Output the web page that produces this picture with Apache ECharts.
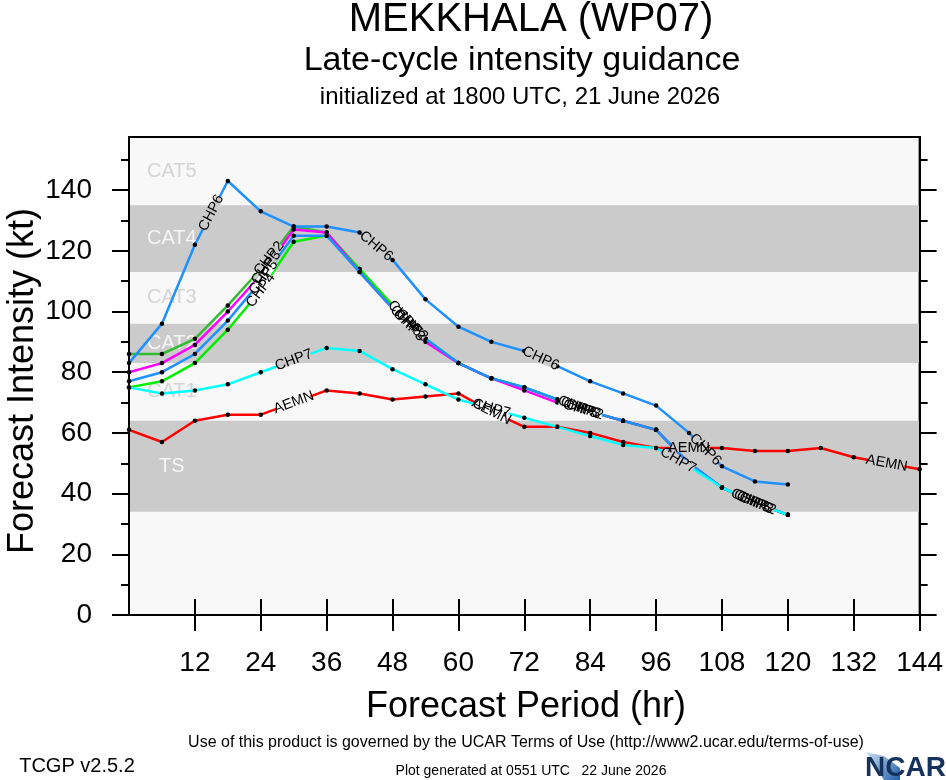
<!DOCTYPE html>
<html>
<head>
<meta charset="utf-8">
<script src="https://cdn.jsdelivr.net/npm/echarts@6/dist/echarts.min.js"></script>
<style>
html,body{margin:0;padding:0;background:#fff;}
#main{width:946px;height:780px;}
</style>
</head>
<body>
<div id="main"></div>
<script>
// forecast hours
var hours = [0,6,12,18,24,30,36,42,48,54,60,66,72,78,84,90,96,102,108,114,120,126,132,138,144];
// intensity (kt) per model
var aemn = [61,57,64,66,66,70,74,73,71,72,73,67,62,62,60,57,55,55,55,54,54,55,52,50,48];
var chp6 = [83,96,122,143,133,128,128,126,117,104,95,90,87,82,77,73,69,60,49,44,43];
var chp7 = [75,73,74,76,80,84,88,87,81,76,71,68,65,62,59,56,55,49,42,37,33];
var chp2 = [86,86,91,102,114,128,126,114,102,91,83,78,75,71,67,64,61,50,42,37,33];
var chp3 = [80,83,89,100,112,127,126,113,101,90,83,78,74,70,67,64,61,50,42,37,33];
var chp4 = [75,77,83,94,107,123,125,114,102,91,83,78,75,71,67,64,61,50,42,37,33];
var chp5 = [77,80,86,97,110,125,125,113,101,91,83,78,75,71,67,64,61,50,42,37,33];

// where the model names sit along each line (hours)
var aemnLabelAt = [30,66,102,138];
var chp6LabelAt = [15,45,75,105];
var chp7LabelAt = [30,66,100];
var chp2LabelAt = [25.5,51.5,83,114.5];
var chp3LabelAt = [25,51,82.5,114];
var chp4LabelAt = [24,50,81.5,113];
var chp5LabelAt = [24.5,50.5,82,113.5];

// intensity categories
var catNames = ['TS','CAT1','CAT2','CAT3','CAT4','CAT5'];
var catLow   = [34,64,83,96,113,135];
var catHigh  = [64,83,96,113,135,157.5];
var catShade = [true,false,true,false,true,false];

// axis ticks
var periodTicks = [12,24,36,48,60,72,84,96,108,120,132,144];
var ktMajor = [0,20,40,60,80,100,120,140];
var ktMinor = [10,30,50,70,90,110,130,150];

var FONT = 'Liberation Sans, Arial, Helvetica, sans-serif';
var GRAY = '#cbcbcb';
var LIGHT = '#f8f8f8';

var models = [
  {id:'AEMN', data:aemn, color:'#ff0000', at:aemnLabelAt},
  {id:'CHP2', data:chp2, color:'#33bb33', at:chp2LabelAt},
  {id:'CHP4', data:chp4, color:'#00ee00', at:chp4LabelAt},
  {id:'CHP3', data:chp3, color:'#ff00ff', at:chp3LabelAt},
  {id:'CHP5', data:chp5, color:'#1e90ff', at:chp5LabelAt},
  {id:'CHP6', data:chp6, color:'#1e90ff', at:chp6LabelAt},
  {id:'CHP7', data:chp7, color:'#00ffff', at:chp7LabelAt}
];

function pairs(arr){
  var out = [];
  for(var i = 0; i < arr.length; i++){
    out.push([hours[i], arr[i]]);
  }
  return out;
}

function valueAt(arr, t){
  var i = Math.min(Math.floor(t/6), arr.length-2);
  var f = (t - hours[i]) / 6;
  return arr[i] + (arr[i+1] - arr[i]) * f;
}

function bandColor(v){
  for(var k = 0; k < catNames.length; k++){
    if(catShade[k] && v >= catLow[k] && v < catHigh[k]) return GRAY;
  }
  return LIGHT;
}

var chart = echarts.init(document.getElementById('main'));

var bandAreas = [];
var bandLabels = [];
for(var k = 0; k < catNames.length; k++){
  if(catShade[k]){
    bandAreas.push([{yAxis:catLow[k], itemStyle:{color:GRAY}}, {yAxis:catHigh[k]}]);
  }
  bandLabels.push({
    value:[7.8, (catLow[k]+catHigh[k])/2],
    label:{color: catShade[k] ? '#ffffff' : '#cccccc'}
  });
}

var series = [{
  id:'bands',
  type:'scatter',
  z:1.5,
  symbolSize:0,
  silent:true,
  data:bandLabels,
  label:{
    show:true, position:'inside', fontSize:20, fontFamily:FONT,
    formatter:function(p){ return catNames[p.dataIndex]; }
  },
  markArea:{silent:true, data:bandAreas}
}];

models.forEach(function(m, idx){
  series.push({
    id:m.id,
    name:m.id,
    type:'line',
    z:2 + idx*0.1,
    data:pairs(m.data),
    showAllSymbol:true,
    symbol:'circle',
    symbolSize:4.5,
    itemStyle:{color:'#000'},
    lineStyle:{color:m.color, width:2.5},
    silent:true
  });
});

function yAxisBase(pos, ticks, len, showLabel){
  return {
    type:'value', min:0, max:157.5, position:pos, z:10,
    axisLine:{show:true, lineStyle:{color:'#000', width:2}},
    axisTick:{show:true, customValues:ticks, length:len, lineStyle:{color:'#000', width:2}},
    axisLabel:{show:showLabel, customValues:ticks, fontSize:28, color:'#000', margin:37, fontFamily:FONT},
    splitLine:{show:false}
  };
}

function xAxisBase(pos, showLabel){
  return {
    type:'value', min:0, max:144, position:pos, z:10,
    axisLine:{show:true, lineStyle:{color:'#000', width:2}},
    axisTick:{show:true, customValues:periodTicks, length:16, lineStyle:{color:'#000', width:2}},
    axisLabel:{show:showLabel, customValues:periodTicks, fontSize:28, color:'#000', margin:34, fontFamily:FONT},
    splitLine:{show:false}
  };
}

function txt(x, y, s, size, extra){
  var o = {
    type:'text', x:x, y:y, silent:true,
    style:{text:s, fontSize:size, fontFamily:FONT, fill:'#000',
      textAlign:'center', textVerticalAlign:'middle', align:'center', verticalAlign:'middle'}
  };
  if(extra){ for(var key in extra){ o[key] = extra[key]; } }
  return o;
}

var option = {
  animation:false,
  backgroundColor:'#ffffff',
  grid:{left:129, right:23, top:137, bottom:165, show:true, backgroundColor:LIGHT, borderColor:'#000', borderWidth:2},
  xAxis:[xAxisBase('bottom', true), xAxisBase('top', false)],
  yAxis:[
    yAxisBase('left', ktMajor, 17, true),
    yAxisBase('left', ktMinor, 8, false),
    yAxisBase('right', ktMajor, 17, false),
    yAxisBase('right', ktMinor, 8, false)
  ],
  series:series,
  graphic:[
    txt(531, 20, 'MEKKHALA (WP07)', 40),
    txt(522, 61, 'Late-cycle intensity guidance', 34),
    txt(520, 97, 'initialized at 1800 UTC, 21 June 2026', 24),
    txt(23, 381, 'Forecast Intensity (kt)', 36, {rotation:Math.PI/2}),
    txt(526, 707, 'Forecast Period (hr)', 36),
    txt(526, 743, 'Use of this product is governed by the UCAR Terms of Use (http://www2.ucar.edu/terms-of-use)', 16),
    txt(77, 766, 'TCGP v2.5.2', 20),
    txt(531, 771, 'Plot generated at 0551 UTC   22 June 2026', 14),
    {type:'polygon', silent:true, shape:{points:[[866,752],[884,756],[900,768],[900,780],[884,780]]},
      style:{fill:new echarts.graphic.LinearGradient(0,0,1,1,[{offset:0,color:'#cfe2f5'},{offset:1,color:'#1f5fa8'}])}},
    {type:'text', x:946, y:768, silent:true,
      style:{text:'NCAR', fontSize:28, fontWeight:'bold', fontFamily:FONT, fill:'#14325c',
        textAlign:'right', textVerticalAlign:'middle', align:'right', verticalAlign:'middle'}}
  ]
};

chart.setOption(option);

// model names written along their lines, breaking the line under the text
var labelUpdates = [];
models.forEach(function(m, idx){
  var last = hours[m.data.length-1];
  var marks = m.at.map(function(t){
    var v = valueAt(m.data, t);
    var ta = Math.max(0, t-3), tb = Math.min(last, t+3);
    var p1 = chart.convertToPixel({seriesIndex:idx+1}, [ta, valueAt(m.data, ta)]);
    var p2 = chart.convertToPixel({seriesIndex:idx+1}, [tb, valueAt(m.data, tb)]);
    var ang = Math.atan2(-(p2[1]-p1[1]), p2[0]-p1[0]) * 180 / Math.PI;
    return {
      coord:[t, v],
      symbol:'rect',
      symbolSize:[36, 8],
      symbolRotate:ang,
      itemStyle:{color:bandColor(v)},
      label:{show:true, position:'inside', formatter:m.id, rotate:ang, fontSize:14.5, color:'#000', fontFamily:FONT}
    };
  });
  labelUpdates.push({id:m.id, markPoint:{silent:true, animation:false, data:marks}});
});
chart.setOption({series:labelUpdates});
</script>
</body>
</html>
